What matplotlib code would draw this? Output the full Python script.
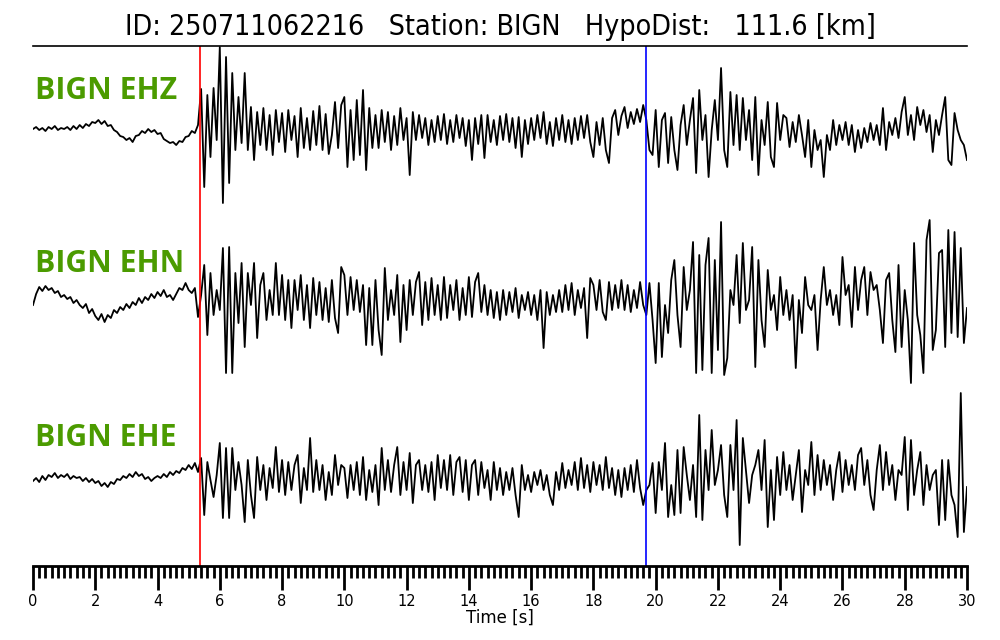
import numpy as np
import matplotlib.pyplot as plt
from matplotlib.ticker import MultipleLocator

# 1. Header info
event_id = "250711062216"
station = "BIGN"
hypo_dist = 111.6
channels = ["EHZ", "EHN", "EHE"]

# 2. Picks [s]
p_pick = 5.365
s_pick = 19.675

# 3. Waveform amplitudes (10 samples per second, arbitrary units)
sample_rate = 10
ehz_amp = [
    1, 3, 0, 2, -1, 3, 1, 4, 0, 2,
    1, 3, 0, 4, 1, 5, 2, 6, 4, 8,
    7, 10, 6, 9, 4, 5, 0, -2, -6, -7,
    -10, -8, -12, -6, -5, -1, -3, 1, -2, 0,
    -4, -3, -9, -11, -13, -12, -15, -11, -12, -7,
    -6, -1, -3, 5, 41, -57, 35, -27, 42, -10,
    83, -73, 73, -53, 57, -20, 33, -13, 57, -20,
    23, -30, 18, -15, 22, -20, 15, -25, 20, -12,
    17, -22, 20, -10, 14, -27, 22, -18, 12, -20,
    19, -15, 24, -20, 16, -24, -5, 28, -18, 25,
    33, -37, 20, -30, 30, -25, 40, -40, 22, -18,
    15, -18, 20, -12, 18, -20, 14, -15, 22, -10,
    12, -45, 18, -10, 15, -8, 12, -15, 10, -12,
    14, -10, 16, -14, 10, -12, 15, -8, 12, -16,
    10, -30, 12, -14, 15, -28, 15, -12, 10, -15,
    14, -10, 16, -12, 12, -18, 13, -27, 10, -14,
    12, -10, 15, -8, 18, -14, 8, -16, 12, -10,
    15, -12, 10, -14, 12, -10, 14, -8, 15, -12,
    -27, 8, -15, 12, -20, -33, 12, 20, -5, 14,
    23, 2, 18, 6, 21, 8, 25, 10, -20, -25,
    20, -37, 10, 17, -33, 13, -20, -40, 5, 25,
    -15, 10, 32, -43, 40, -10, 15, -47, 0, 30,
    -10, 62, -20, -37, 38, -15, 35, -20, 32, -10,
    20, -30, 33, -45, 10, -15, 28, -27, -37, 27,
    -10, 15, 12, -17, 8, -12, 15, -5, -27, 10,
    -37, 0, -20, -10, -47, -5, -20, 10, -15, 5,
    -10, 8, -15, 5, -22, 0, -18, 2, -12, 7,
    -10, 5, -15, 22, -20, 8, -5, 12, -8, 18,
    33, -5, 15, -10, 23, 5, 20, -2, 15, -22,
    10, -5, 15, 33, -30, -35, 17, 0, -10, -15,
    -30,
]
ehn_amp = [
    -5, 6, 13, 9, 14, 10, 12, 7, 9, 3,
    5, 1, 3, -3, 0, -5, -8, -4, -13, -9,
    -16, -20, -14, -22, -15, -18, -10, -13, -7, -10,
    -4, -8, -2, -5, 2, -3, 3, 0, 6, 2,
    8, 4, 10, 3, 5, 0, 6, 12, 10, 17,
    10, 7, 12, -17, 5, 35, -35, 27, -15, 10,
    -10, 52, -73, 53, -73, 27, -23, 37, -47, 27,
    -5, 37, -38, 15, 27, -20, 10, -15, 37, -15,
    25, -20, 20, -28, 20, -10, 25, -20, 15, -28,
    22, -15, 18, -20, 12, -22, 20, -18, -33, 33,
    25, -15, 23, -10, 20, -12, 15, -45, 12, -45,
    20, -30, -55, 32, -20, 10, -15, 25, -42, 15,
    -30, 20, -15, 18, 28, -25, 18, -20, 22, -15,
    15, -20, 23, -18, 15, -10, 20, -20, 12, -15,
    23, -17, 18, 27, -12, 15, -15, 10, -18, 8,
    -20, 10, -15, 8, -12, 12, -18, 5, -10, 8,
    -15, 5, -20, 10, -48, 8, -15, 5, -12, 10,
    -12, 15, -10, 17, -15, 10, -8, 12, -38, 22,
    15, -10, 20, -12, -20, 18, -10, 15, -8, 20,
    -10, 15, -12, 10, -8, 18, -5, -15, 17, -20,
    -63, 17, -57, -5, -33, 20, 40, -15, -47, 33,
    -10, 10, 58, -73, 45, -70, 35, 62, -73, 40,
    -50, 78, -75, -58, 10, -5, 45, -23, 57, -10,
    0, 53, -67, 40, -20, -47, 30, -10, 5, -30,
    23, -15, 10, -20, 5, -68, 0, -33, 23, -5,
    -10, 5, -50, 0, 33, -5, 10, -15, 5, -25,
    43, 5, 15, -27, 33, -10, 20, 33, -15, 28,
    10, 15, -10, -43, 20, 27, -20, -52, 35, -47,
    10, -20, -83, 57, -15, -35, -73, 60, 80, -50,
    -30, 47, 50, -47, 70, -33, 68, -37, 52, -43,
    -8,
]
ehe_amp = [
    -1, 2, -2, 4, 0, 5, 3, 7, 2, 5,
    3, 6, 1, 4, 2, 3, -1, 2, -2, 1,
    -3, -1, -6, -3, -7, -2, -4, 1, 0, 4,
    2, 6, 3, 8, 4, 6, 1, 3, -1, 2,
    4, 2, 6, 3, 8, 5, 9, 7, 12, 10,
    15, 11, 17, 8, 22, -35, 18, 0, -17, 5,
    37, -38, 32, -38, 32, -10, 18, -5, -42, 20,
    -15, -38, 23, -10, 15, -20, 12, -8, 33, -12,
    20, -15, 18, -10, 15, 25, -23, 12, -10, 42,
    -12, 20, -10, 15, -20, 8, -15, 25, -5, 15,
    12, -18, 15, -10, 18, -15, 23, -20, 10, -12,
    15, -25, 32, -10, 20, -12, 15, 33, -15, 18,
    -10, 27, -23, 15, 20, -10, 15, -12, 18, -20,
    25, -8, 20, -10, 25, -15, 18, 23, -12, 20,
    -20, 15, 20, -15, 18, -8, 10, -20, 18, -10,
    12, -15, 8, -10, 12, -15, -37, 15, -10, 5,
    -12, 8, -5, 10, -10, 5, -15, -25, 8, -10,
    17, -8, 10, -5, 18, -10, 22, -8, 15, -12,
    18, -5, 15, -10, 23, -8, 12, -15, 10, -17,
    12, -10, 15, -12, 20, -8, -25, -10, -5, 17,
    -33, 18, -10, 37, -37, -5, -35, 30, -33, 33,
    5, -20, 15, -37, 65, -40, 30, -10, 50, -5,
    10, 35, -15, -37, 35, -10, 60, -65, 42, 10,
    -23, 5, 15, 30, -10, 40, -47, 10, -40, 23,
    -15, 28, -10, 15, -20, 5, 30, -32, 10, -5,
    38, -15, 25, -10, 20, -5, 15, -20, 10, 28,
    -12, 20, -5, 15, -10, 25, 32, -5, 20, -15,
    -30, 10, 35, -10, 28, -5, 15, -20, 10, 5,
    43, -30, 40, -15, 10, 28, -25, 15, -10, 5,
    10, -45, 20, -40, 20, -15, -25, -57, 87, -52,
    -7,
]
traces = [ehz_amp, ehn_amp, ehe_amp]
trace_offsets = [0, -170, -350]  # vertical stacking of the traces
label_lift = [39, 36, 42]        # label height above each trace

# 4. Figure
fig = plt.figure(figsize=(10, 6.4), dpi=100)
ax = fig.add_axes([0.033, 0.1156, 0.934, 0.8125])

for name, amp, off, lift in zip(channels, traces, trace_offsets, label_lift):
    amp = np.array(amp, dtype=float)
    t = np.arange(len(amp)) / sample_rate
    ax.plot(t, amp + off, color="black", lw=1.3)
    ax.text(0.05, off + lift, f"{station} {name}", color="#4b9b00",
            fontsize=21.7, fontweight="bold", family="Open Sans",
            ha="left", va="center")

ax.axvline(p_pick, color="red", lw=1.2)
ax.axvline(s_pick, color="blue", lw=1.2)

ax.set_xlim(0, 30)
ax.set_ylim(-436, 84)

# 5. Axis styling
for side in ["left", "right"]:
    ax.spines[side].set_visible(False)
ax.spines["bottom"].set_linewidth(2)
ax.spines["top"].set_linewidth(1.2)
ax.set_yticks([])
ax.xaxis.set_major_locator(MultipleLocator(2))
ax.xaxis.set_minor_locator(MultipleLocator(0.2))
ax.tick_params(axis="x", which="major", length=17, width=2, labelsize=10.5, pad=3)
ax.tick_params(axis="x", which="minor", length=8.5, width=2)
ax.set_xlabel("Time [s]", fontsize=12, labelpad=0)

fig.text(0.5, 1 - 27 / 640,
         f"ID: {event_id}   Station: {station}   HypoDist:   {hypo_dist:.1f} [km]",
         ha="center", va="center", fontsize=20.5, fontstretch="condensed")

fig.savefig("out.png", dpi=100)
